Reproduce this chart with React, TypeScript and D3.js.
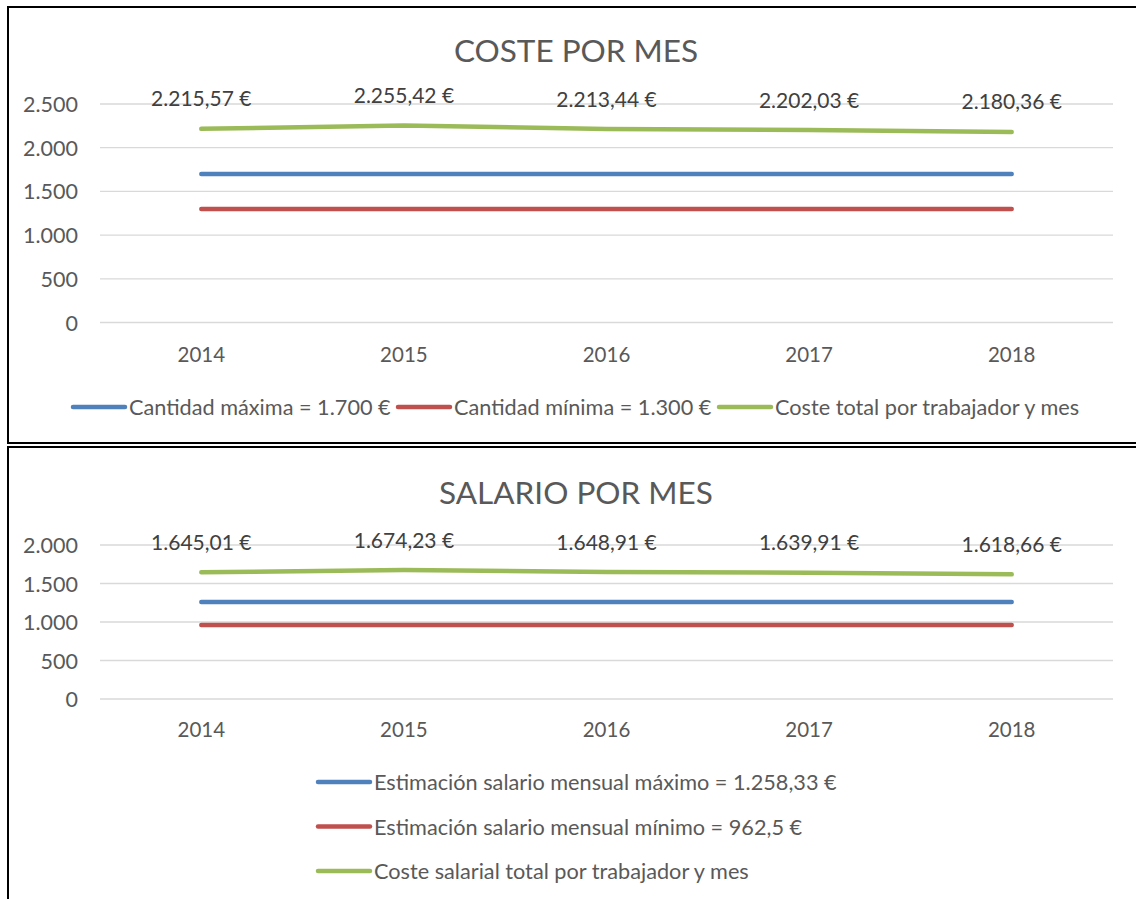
import React from "react";
import * as d3 from "d3";

const years = ["2014", "2015", "2016", "2017", "2018"];

// Chart 1: COSTE POR MES
const costeTitle = "COSTE POR MES";
const costeMax = [1700, 1700, 1700, 1700, 1700];
const costeMin = [1300, 1300, 1300, 1300, 1300];
const costeTotal = [2215.57, 2255.42, 2213.44, 2202.03, 2180.36];
const costeTicks = [0, 500, 1000, 1500, 2000, 2500];
const costeLegend = [
  "Cantidad máxima = 1.700 €",
  "Cantidad mínima = 1.300 €",
  "Coste total por trabajador y mes",
];

// Chart 2: SALARIO POR MES
const salarioTitle = "SALARIO POR MES";
const salarioMax = [1258.33, 1258.33, 1258.33, 1258.33, 1258.33];
const salarioMin = [962.5, 962.5, 962.5, 962.5, 962.5];
const salarioTotal = [1645.01, 1674.23, 1648.91, 1639.91, 1618.66];
const salarioTicks = [0, 500, 1000, 1500, 2000];
const salarioLegend = [
  "Estimación salario mensual máximo = 1.258,33 €",
  "Estimación salario mensual mínimo = 962,5 €",
  "Coste salarial total por trabajador y mes",
];

const BLUE = "#4F81BD";
const RED = "#C0504D";
const GREEN = "#9BBB59";
const FONT = "Lato, 'Open Sans', sans-serif";

const fmtTick = (v: number) =>
  d3.format(",")(v).replace(/,/g, ".");
const fmtEuro = (v: number) => {
  const s = d3.format(",.2f")(v);
  return s.replace(/,/g, "#").replace(".", ",").replace(/#/g, ".") + " €";
};

type ChartProps = {
  title: string;
  titleY: number;
  series: { values: number[]; color: string }[];
  labels: number[];
  ticks: number[];
  yTop: number;
  yBottom: number;
  yearY: number;
};

function Chart({ title, titleY, series, labels, ticks, yTop, yBottom, yearY }: ChartProps) {
  const x = d3.scalePoint<string>().domain(years).range([100, 1113]).padding(0.5);
  const y = d3
    .scaleLinear()
    .domain([0, d3.max(ticks) as number])
    .range([yBottom, yTop]);
  const line = d3
    .line<number>()
    .x((_, i) => x(years[i]) as number)
    .y((d) => y(d));
  return (
    <g>
      <text
        x={576}
        y={titleY}
        textAnchor="middle"
        dominantBaseline="central"
        fontSize={31.5}
        fill="#595959"
        fontFamily={FONT}
      >
        {title}
      </text>
      {ticks.map((t) => (
        <g key={t}>
          <line x1={100} x2={1113} y1={y(t)} y2={y(t)} stroke="#d9d9d9" strokeWidth={1.3} />
          <text
            x={78}
            y={y(t)}
            textAnchor="end"
            dominantBaseline="central"
            fontSize={21.5}
            fill="#595959"
            fontFamily={FONT}
          >
            {fmtTick(t)}
          </text>
        </g>
      ))}
      {years.map((yr) => (
        <text
          key={yr}
          x={x(yr)}
          y={yearY}
          textAnchor="middle"
          dominantBaseline="central"
          fontSize={20.5}
          fill="#595959"
          fontFamily={FONT}
        >
          {yr}
        </text>
      ))}
      {series.map((s, i) => (
        <path
          key={i}
          d={line(s.values) as string}
          fill="none"
          stroke={s.color}
          strokeWidth={4.5}
          strokeLinecap="round"
          strokeLinejoin="round"
        />
      ))}
      {labels.map((v, i) => (
        <text
          key={i}
          x={x(years[i])}
          y={y(v) - 31}
          textAnchor="middle"
          dominantBaseline="central"
          fontSize={21}
          fill="#404040"
          fontFamily={FONT}
        >
          {fmtEuro(v)}
        </text>
      ))}
    </g>
  );
}

function LegendItem({ x, y, color, label }: { x: number; y: number; color: string; label: string }) {
  return (
    <g>
      <line x1={x} x2={x + 52} y1={y} y2={y} stroke={color} strokeWidth={4.5} strokeLinecap="round" />
      <text
        x={x + 56}
        y={y}
        dominantBaseline="central"
        fontSize={21.7}
        fill="#595959"
        fontFamily={FONT}
      >
        {label}
      </text>
    </g>
  );
}

export default function App() {
  const colors = [BLUE, RED, GREEN];
  const topLegendX = [73, 398, 719];
  return (
    <svg
      width={1136}
      height={899}
      style={{ position: "absolute", left: 0, top: 0, background: "#fff" }}
    >
      <rect x={0} y={0} width={1136} height={899} fill="#fff" />
      <path d="M1140 7 H8 V443 H1140" fill="none" stroke="#000" strokeWidth={2} />
      <path d="M1140 447 H8 V905" fill="none" stroke="#000" strokeWidth={2} />
      <Chart
        title={costeTitle}
        titleY={50}
        series={[
          { values: costeMax, color: BLUE },
          { values: costeMin, color: RED },
          { values: costeTotal, color: GREEN },
        ]}
        labels={costeTotal}
        ticks={costeTicks}
        yTop={104}
        yBottom={322.5}
        yearY={354}
      />
      {costeLegend.map((l, i) => (
        <LegendItem key={l} x={topLegendX[i]} y={407} color={colors[i]} label={l} />
      ))}
      <Chart
        title={salarioTitle}
        titleY={492}
        series={[
          { values: salarioMax, color: BLUE },
          { values: salarioMin, color: RED },
          { values: salarioTotal, color: GREEN },
        ]}
        labels={salarioTotal}
        ticks={salarioTicks}
        yTop={545}
        yBottom={699}
        yearY={729}
      />
      {salarioLegend.map((l, i) => (
        <LegendItem key={l} x={318} y={782 + i * 44.5} color={colors[i]} label={l} />
      ))}
    </svg>
  );
}
